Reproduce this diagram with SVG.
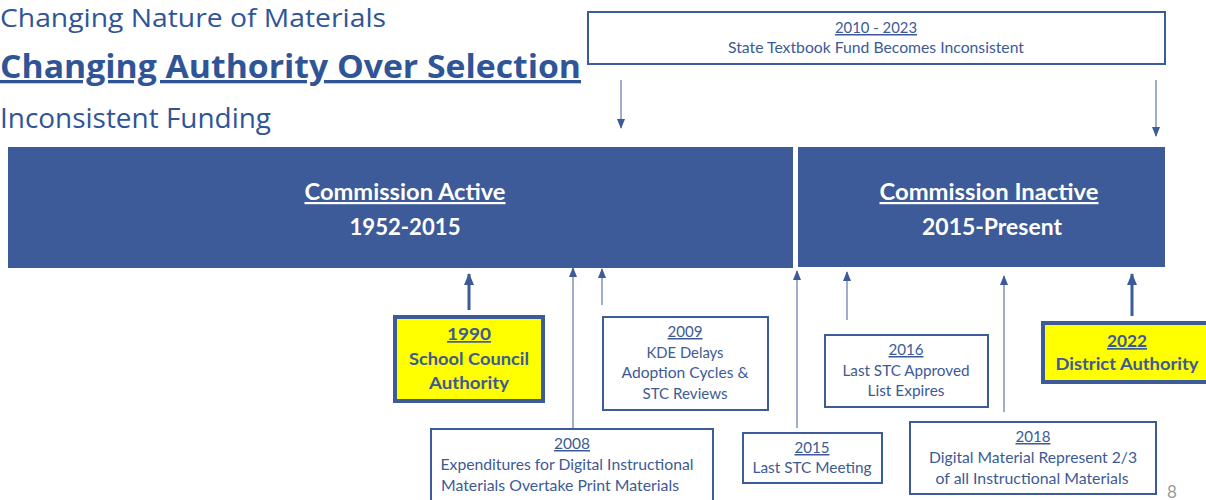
<svg xmlns="http://www.w3.org/2000/svg" width="1206" height="500" viewBox="0 0 1206 500">
<style>
.hd{font-family:"Open Sans","Liberation Sans",sans-serif;fill:#2F5597}
.bar{fill:#3D5A99}
.bt{font-family:Lato,"Open Sans",sans-serif;font-weight:bold;fill:#ffffff;font-size:22px;text-anchor:middle}
.box{fill:#ffffff;stroke:#3D5A99;stroke-width:2}
.ybox{fill:#FFFF00;stroke:#3D5A99;stroke-width:4}
.tx{font-family:Lato,"Open Sans",sans-serif;fill:#3D5A96;font-size:15px;text-anchor:middle}
.yt{font-family:Lato,"Open Sans",sans-serif;font-weight:bold;fill:#3D5A96;font-size:17px;text-anchor:middle}
.u{text-decoration:underline}
.thin{stroke:#6F80B2;stroke-width:1.3;fill:none}
.thick{stroke:#3D5A99;stroke-width:3;fill:none}
</style>
<defs>
<marker id="ah" markerUnits="userSpaceOnUse" markerWidth="10" markerHeight="10" viewBox="0 0 10 10" refX="5" refY="1" orient="0">
<path d="M1,10 L5,0 L9,10 Z" fill="#3D5A99"/>
</marker>
<marker id="ahd" markerUnits="userSpaceOnUse" markerWidth="10" markerHeight="10" viewBox="0 0 10 10" refX="5" refY="9" orient="0">
<path d="M1,0 L9,0 L5,10 Z" fill="#3D5A99"/>
</marker>
<marker id="ahb" markerUnits="userSpaceOnUse" markerWidth="12" markerHeight="12" viewBox="0 0 12 12" refX="6" refY="1" orient="0">
<path d="M1,12 L6,0 L11,12 Z" fill="#3D5A99"/>
</marker>
</defs>

<g id="headings">
<text class="hd" x="0" y="27" font-size="26" textLength="386" lengthAdjust="spacingAndGlyphs">Changing Nature of Materials</text>
<text class="hd u" x="0" y="78" font-size="33" font-weight="bold" textLength="581" lengthAdjust="spacingAndGlyphs">Changing Authority Over Selection</text>
<text class="hd" x="0" y="128" font-size="27" textLength="271" lengthAdjust="spacingAndGlyphs">Inconsistent Funding</text>
</g>

<g id="funding">
<rect class="box" x="588" y="12" width="577" height="52"/>
<text class="tx u" x="876" y="33" textLength="82" lengthAdjust="spacingAndGlyphs">2010 - 2023</text>
<text class="tx" x="876" y="53" textLength="296" lengthAdjust="spacingAndGlyphs">State Textbook Fund Becomes Inconsistent</text>
</g>

<g id="commission-active">
<rect class="bar" x="8" y="147" width="785" height="121"/>
<text class="bt u" x="405" y="200" textLength="201" lengthAdjust="spacingAndGlyphs">Commission Active</text>
<text class="bt" x="405" y="235" textLength="111" lengthAdjust="spacingAndGlyphs">1952-2015</text>
</g>

<g id="commission-inactive">
<rect class="bar" x="798" y="147" width="367" height="120"/>
<text class="bt u" x="989" y="200" textLength="219" lengthAdjust="spacingAndGlyphs">Commission Inactive</text>
<text class="bt" x="992" y="235" textLength="140" lengthAdjust="spacingAndGlyphs">2015-Present</text>
</g>

<g id="connectors">
<line class="thin" x1="621" y1="80" x2="621" y2="128" marker-end="url(#ahd)"/>
<line class="thin" x1="1156" y1="80" x2="1156" y2="136" marker-end="url(#ahd)"/>
<line class="thick" x1="469" y1="310" x2="469" y2="274" marker-end="url(#ahb)"/>
<line class="thin" x1="573" y1="428" x2="573" y2="268" marker-end="url(#ah)"/>
<line class="thin" x1="602" y1="305" x2="602" y2="269" marker-end="url(#ah)"/>
<line class="thin" x1="797" y1="428" x2="797" y2="271" marker-end="url(#ah)"/>
<line class="thin" x1="847" y1="320" x2="847" y2="272" marker-end="url(#ah)"/>
<line class="thin" x1="1004" y1="412" x2="1004" y2="276" marker-end="url(#ah)"/>
<line class="thick" x1="1132" y1="316" x2="1132" y2="274" marker-end="url(#ahb)"/>
</g>

<g id="n1990">
<rect class="ybox" x="395" y="317" width="148" height="84"/>
<text class="yt u" x="469" y="340" textLength="44" lengthAdjust="spacingAndGlyphs">1990</text>
<text class="yt" x="469" y="365" textLength="120" lengthAdjust="spacingAndGlyphs">School Council</text>
<text class="yt" x="469" y="389" textLength="80" lengthAdjust="spacingAndGlyphs">Authority</text>
</g>

<g id="n2009">
<rect class="box" x="603" y="317" width="165" height="93"/>
<text class="tx u" x="685" y="337" textLength="35" lengthAdjust="spacingAndGlyphs">2009</text>
<text class="tx" x="685" y="358" textLength="77" lengthAdjust="spacingAndGlyphs">KDE Delays</text>
<text class="tx" x="685" y="378" textLength="127" lengthAdjust="spacingAndGlyphs">Adoption Cycles &amp;</text>
<text class="tx" x="685" y="399" textLength="85" lengthAdjust="spacingAndGlyphs">STC Reviews</text>
</g>

<g id="n2008">
<rect class="box" x="431" y="429" width="282" height="75"/>
<text class="tx u" x="572" y="449" textLength="36" lengthAdjust="spacingAndGlyphs">2008</text>
<text class="tx" x="567" y="470" textLength="253" lengthAdjust="spacingAndGlyphs">Expenditures for Digital Instructional</text>
<text class="tx" x="560" y="491" textLength="238" lengthAdjust="spacingAndGlyphs">Materials Overtake Print Materials</text>
</g>

<g id="n2015">
<rect class="box" x="743" y="433" width="139" height="50"/>
<text class="tx u" x="812" y="453" textLength="35" lengthAdjust="spacingAndGlyphs">2015</text>
<text class="tx" x="812" y="473" textLength="119" lengthAdjust="spacingAndGlyphs">Last STC Meeting</text>
</g>

<g id="n2016">
<rect class="box" x="825" y="335" width="163" height="72"/>
<text class="tx u" x="906" y="355" textLength="35" lengthAdjust="spacingAndGlyphs">2016</text>
<text class="tx" x="906" y="376" textLength="127" lengthAdjust="spacingAndGlyphs">Last STC Approved</text>
<text class="tx" x="906" y="396" textLength="77" lengthAdjust="spacingAndGlyphs">List Expires</text>
</g>

<g id="n2018">
<rect class="box" x="910" y="422" width="246" height="72"/>
<text class="tx u" x="1033" y="442" textLength="35" lengthAdjust="spacingAndGlyphs">2018</text>
<text class="tx" x="1033" y="463" textLength="208" lengthAdjust="spacingAndGlyphs">Digital Material Represent 2/3</text>
<text class="tx" x="1032" y="484" textLength="193" lengthAdjust="spacingAndGlyphs">of all Instructional Materials</text>
</g>

<g id="n2022">
<rect class="ybox" x="1043" y="323" width="166" height="59"/>
<text class="yt u" x="1127" y="347" textLength="40" lengthAdjust="spacingAndGlyphs">2022</text>
<text class="yt" x="1127" y="370" textLength="143" lengthAdjust="spacingAndGlyphs">District Authority</text>
</g>

<text x="1167" y="498" font-family="Lato,'Open Sans',sans-serif" font-size="17" fill="#9A9A9A">8</text>
</svg>
